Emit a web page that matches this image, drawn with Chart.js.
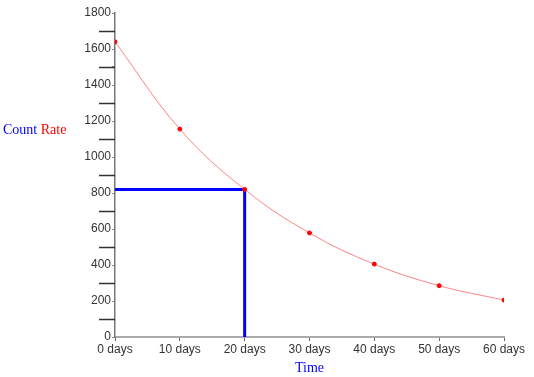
<!DOCTYPE html>
<html lang="en">
<head>
    <meta charset="UTF-8">
    <title>Count Rate vs Time</title>
    <script src="https://cdn.jsdelivr.net/npm/chart.js"></script>
    <style>
        html, body { margin: 0; padding: 0; background: #fff; }
        .wrap { width: 534px; height: 377px; }
    </style>
</head>
<body>
    <div class="wrap"><canvas id="decayChart"></canvas></div>

    <script>
        const days = [0, 10, 20, 30, 40, 50, 60];
        const countRate = [1640, 1155, 820, 578, 405, 285, 205];
        const halfLifeX = [0, 20, 20];
        const halfLifeY = [820, 820, 0];
        const minorTicks = [100, 300, 500, 700, 900, 1100, 1300, 1500, 1700];

        // long unlabelled ticks on the left of the y axis + "Count Rate" label
        const extras = {
            id: "extras",
            afterDraw(chart) {
                const ctx = chart.ctx;
                const y = chart.scales.y;
                ctx.save();
                ctx.strokeStyle = "#333";
                ctx.lineWidth = 1.5;
                minorTicks.forEach(v => {
                    const py = Math.round(y.getPixelForValue(v)) + 0.5;
                    ctx.beginPath();
                    ctx.moveTo(y.right - 16, py);
                    ctx.lineTo(y.right, py);
                    ctx.stroke();
                });
                ctx.font = "14px 'Liberation Serif'";
                ctx.textBaseline = "middle";
                const ty = y.getPixelForValue(1150);
                ctx.fillStyle = "#0000ff";
                ctx.fillText("Count", 3, ty);
                const w = ctx.measureText("Count ").width;
                ctx.fillStyle = "#ff0000";
                ctx.fillText("Rate", 3 + w, ty);
                ctx.restore();
            }
        };

        new Chart(document.getElementById("decayChart"), {
            type: "line",
            data: {
                datasets: [{
                    data: days.map((d, i) => ({ x: d, y: countRate[i] })),
                    borderColor: "rgba(255, 80, 80, 0.7)",
                    borderWidth: 1,
                    pointBackgroundColor: "#ff0000",
                    pointBorderColor: "#ff0000",
                    pointRadius: 2,
                    tension: 0.4,
                    order: 0
                }, {
                    data: halfLifeX.map((d, i) => ({ x: d, y: halfLifeY[i] })),
                    borderColor: "#0000ff",
                    borderWidth: 3,
                    pointRadius: 0,
                    tension: 0,
                    clip: false,
                    order: 1
                }]
            },
            options: {
                responsive: true,
                maintainAspectRatio: false,
                animation: false,
                layout: { padding: { top: 13, right: 30, left: 0, bottom: 0 } },
                plugins: { legend: { display: false }, tooltip: { enabled: false } },
                scales: {
                    x: {
                        type: "linear",
                        min: 0,
                        max: 60,
                        ticks: {
                            stepSize: 10,
                            color: "#333",
                            font: { family: "'Liberation Sans'", size: 12 },
                            padding: 1,
                            callback: v => v + " days"
                        },
                        grid: { drawOnChartArea: false, tickLength: 4, color: "#666" },
                        border: { color: "#aaa", width: 2 },
                        title: {
                            display: true,
                            text: "Time",
                            color: "#0000ff",
                            font: { family: "'Liberation Serif'", size: 14 },
                            padding: { top: 0, bottom: 0 }
                        },
                        afterFit: s => { s.height = 40; }
                    },
                    y: {
                        min: 0,
                        max: 1800,
                        ticks: {
                            stepSize: 100,
                            autoSkip: false,
                            color: "#333",
                            font: { family: "'Liberation Sans'", size: 12 },
                            padding: 1,
                            callback: v => (v % 200 === 0 ? v : "")
                        },
                        grid: {
                            drawOnChartArea: false,
                            tickLength: 3,
                            color: "#888"
                        },
                        border: { color: "#777", width: 1.5 },
                        afterFit: s => { s.width = 115; }
                    }
                }
            },
            plugins: [extras]
        });
    </script>
</body>
</html>
